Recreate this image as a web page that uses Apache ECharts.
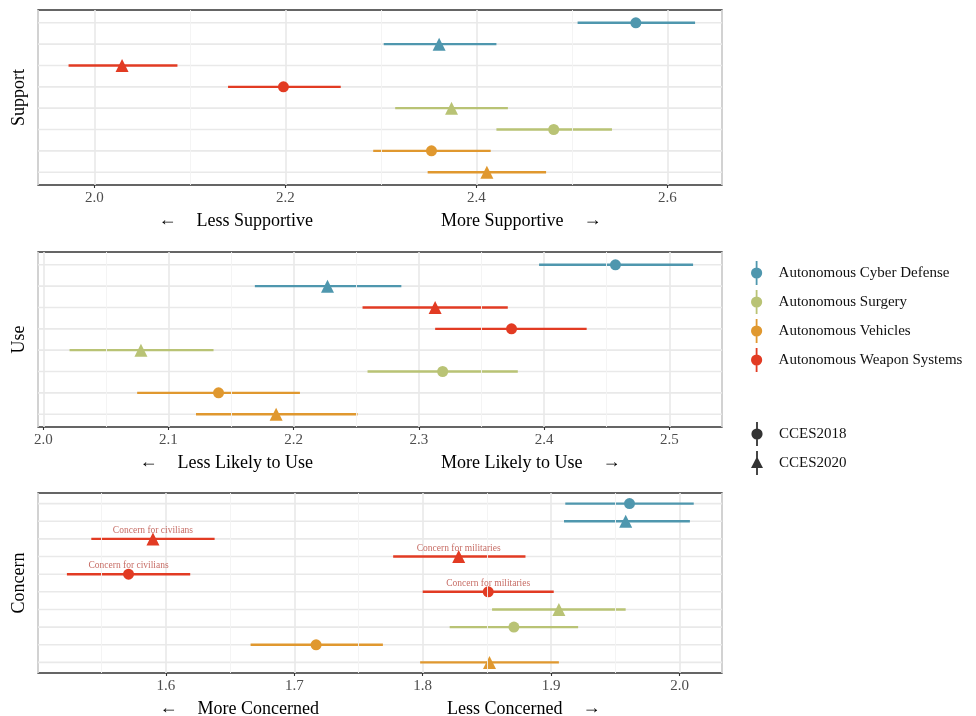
<!DOCTYPE html>
<html>
<head>
<meta charset="utf-8">
<script src="https://cdn.jsdelivr.net/npm/echarts@6/dist/echarts.min.js"></script>
<style>
  html, body { margin: 0; padding: 0; background: #fff; }
  #chart { width: 976px; height: 716px; }
</style>
</head>
<body>
<div id="chart"></div>
<script>
const techNames = ['Autonomous Cyber Defense', 'Autonomous Surgery', 'Autonomous Vehicles', 'Autonomous Weapon Systems'];
const techColors = ['#4f97ae', '#b9c375', '#e0982f', '#e23b23'];
const waves = ['CCES2018', 'CCES2020'];

// rows top to bottom; tech index, wave index, estimate, interval
const supportTech = [0, 0, 3, 3, 1, 1, 2, 2];
const supportWave = [0, 1, 1, 0, 1, 0, 0, 1];
const supportEst = [2.567, 2.361, 2.029, 2.198, 2.374, 2.481, 2.353, 2.411];
const supportLo = [2.506, 2.303, 1.973, 2.140, 2.315, 2.421, 2.292, 2.349];
const supportHi = [2.629, 2.421, 2.087, 2.258, 2.433, 2.542, 2.415, 2.473];

const useTech = [0, 0, 3, 3, 1, 1, 2, 2];
const useWave = [0, 1, 1, 0, 1, 0, 0, 1];
const useEst = [2.457, 2.227, 2.313, 2.374, 2.078, 2.319, 2.140, 2.186];
const useLo = [2.396, 2.169, 2.255, 2.313, 2.021, 2.259, 2.075, 2.122];
const useHi = [2.519, 2.286, 2.371, 2.434, 2.136, 2.379, 2.205, 2.251];

const concernTech = [0, 0, 3, 3, 3, 3, 1, 1, 2, 2];
const concernWave = [0, 1, 1, 1, 0, 0, 1, 0, 0, 1];
const concernEst = [1.961, 1.958, 1.590, 1.828, 1.571, 1.851, 1.906, 1.871, 1.717, 1.852];
const concernLo = [1.911, 1.910, 1.542, 1.777, 1.523, 1.800, 1.854, 1.821, 1.666, 1.798];
const concernHi = [2.011, 2.008, 1.638, 1.880, 1.619, 1.902, 1.958, 1.921, 1.769, 1.906];
const concernNote = ['', '', 'Concern for civilians', 'Concern for militaries', 'Concern for civilians', 'Concern for militaries', '', '', '', ''];

const panelTitles = ['Support', 'Use', 'Concern'];
const lowLabels = ['Less Supportive', 'Less Likely to Use', 'More Concerned'];
const highLabels = ['More Supportive', 'More Likely to Use', 'Less Concerned'];
const xMin = [1.941, 1.9958, 1.5005];
const xMax = [2.6572, 2.5421, 2.033];
const xSplits = [3, 5, 5];
const tickLabels = [
  ['2.0', '2.2', '2.4', '2.6'],
  ['2.0', '2.1', '2.2', '2.3', '2.4', '2.5'],
  ['1.6', '1.7', '1.8', '1.9', '2.0']
];
const minorTicks = [
  [2.1, 2.3, 2.5],
  [2.05, 2.15, 2.25, 2.35, 2.45],
  [1.55, 1.65, 1.75, 1.85, 1.95]
];

const panels = [
  { tech: supportTech, wave: supportWave, est: supportEst, lo: supportLo, hi: supportHi },
  { tech: useTech, wave: useWave, est: useEst, lo: useLo, hi: useHi },
  { tech: concernTech, wave: concernWave, est: concernEst, lo: concernLo, hi: concernHi, note: concernNote }
];
const grids = [
  { left: 38, top: 10, width: 684, height: 175 },
  { left: 38, top: 252, width: 684, height: 175 },
  { left: 38, top: 493, width: 684, height: 180 }
];
const nameGaps = [26, 26, 26];

const font = 'Liberation Serif';
const iconDot = 'path://M4.1,0H5.9V8H4.1Z M4.1,16H5.9V24H4.1Z M-0.6,12A5.6,5.6 0 1,1 10.6,12A5.6,5.6 0 1,1 -0.6,12Z';
const iconTri = 'path://M4.1,0H5.9V8H4.1Z M4.1,16H5.9V24H4.1Z M5,5.5L11,17H-1Z';

const chart = echarts.init(document.getElementById('chart'));

const xAxes = [], yAxes = [], series = [];

panels.forEach((p, i) => {
  const n = p.est.length;
  xAxes.push({
    type: 'value', gridIndex: i, min: xMin[i], max: xMax[i], splitNumber: xSplits[i],
    axisLine: { show: false, onZero: false },
    axisTick: { show: true, length: 3, lineStyle: { color: '#333', width: 1.1 } },
    axisLabel: {
      color: '#4d4d4d', fontSize: 15, fontFamily: font, margin: 6,
      showMinLabel: false, showMaxLabel: false,
      formatter: v => tickLabels[i].includes(v.toFixed(1)) ? v.toFixed(1) : ''
    },
    splitLine: { show: true, lineStyle: { color: '#e9e9e9', width: 1.6 } },
    name: '{a|←}{s| }{t|' + lowLabels[i] + '}{m| }{t|' + highLabels[i] + '}{s| }{a|→}',
    nameLocation: 'middle', nameGap: nameGaps[i],
    nameTextStyle: {
      rich: {
        t: { fontSize: 18, fontFamily: font, color: '#000' },
        a: { fontSize: 18, fontFamily: font, color: '#000', padding: [0, 0, 3, 0] },
        s: { width: 20 },
        m: { width: 128 }
      }
    }
  });
  yAxes.push({
    type: 'value', gridIndex: i, min: -0.6, max: n - 0.4, inverse: true,
    axisLine: { show: false, onZero: false }, axisTick: { show: false }, axisLabel: { show: false },
    splitLine: { show: false },
    name: panelTitles[i], nameLocation: 'middle', nameGap: 10,
    nameTextStyle: { fontSize: 18, fontFamily: font, color: '#000' }
  });

  // horizontal row gridlines and minor vertical gridlines
  series.push({
    type: 'custom', xAxisIndex: i, yAxisIndex: i, silent: true, z: 1,
    data: p.est.map((v, r) => [r]),
    encode: { y: 0 },
    renderItem: (params, api) => {
      const cs = params.coordSys;
      const y = api.coord([xMin[i], api.value(0)])[1];
      return { type: 'line', shape: { x1: cs.x, y1: y, x2: cs.x + cs.width, y2: y },
        style: { stroke: '#e9e9e9', lineWidth: 1.6 } };
    },
    markLine: {
      silent: true, symbol: 'none', label: { show: false },
      lineStyle: { color: '#f3f3f3', width: 0.9, type: 'solid' },
      data: minorTicks[i].map(v => ({ xAxis: v }))
    }
  });

  // interval whiskers
  series.push({
    type: 'custom', xAxisIndex: i, yAxisIndex: i, silent: true, z: 3,
    data: p.est.map((v, r) => [p.lo[r], p.hi[r], r, p.tech[r]]),
    encode: { x: [0, 1], y: 2 },
    renderItem: (params, api) => {
      const a = api.coord([api.value(0), api.value(2)]);
      const b = api.coord([api.value(1), api.value(2)]);
      return { type: 'line', shape: { x1: a[0], y1: a[1], x2: b[0], y2: b[1] },
        style: { stroke: techColors[api.value(3)], lineWidth: 2.4 } };
    }
  });

  // point estimates, one series per technology
  techNames.forEach((name, t) => {
    const data = [];
    p.est.forEach((v, r) => {
      if (p.tech[r] !== t) return;
      const tri = p.wave[r] === 1;
      data.push({ value: [v, r], symbol: tri ? 'triangle' : 'circle', symbolSize: tri ? 13 : 11 });
    });
    series.push({
      type: 'scatter', name: name, xAxisIndex: i, yAxisIndex: i, z: 4,
      itemStyle: { color: techColors[t], opacity: 1 },
      data: data
    });
  });

  if (p.note) {
    const notes = [];
    p.est.forEach((v, r) => { if (p.note[r]) notes.push({ value: [v, r], name: p.note[r] }); });
    series.push({
      type: 'scatter', xAxisIndex: i, yAxisIndex: i, symbolSize: 0, z: 5, silent: true,
      data: notes,
      label: { show: true, position: 'top', distance: 3.5, formatter: '{b}',
        color: '#b8463c', fontSize: 9.5, fontFamily: font }
    });
  }
});

waves.forEach(w => {
  series.push({ type: 'scatter', name: w, xAxisIndex: 0, yAxisIndex: 0, itemStyle: { color: '#000' }, data: [] });
});

chart.setOption({
  animation: false,
  backgroundColor: '#fff',
  grid: grids.map(g => Object.assign({
    show: true, borderColor: '#333', borderWidth: 1.3, backgroundColor: 'transparent',
    containLabel: false, outerBoundsMode: 'none'
  }, g)),
  xAxis: xAxes,
  yAxis: yAxes,
  legend: [
    {
      orient: 'vertical', left: 746, top: 256, itemWidth: 34, itemHeight: 24, itemGap: 5,
      selectedMode: false,
      textStyle: { fontSize: 15, fontFamily: font, color: '#111' },
      data: techNames.map(nm => ({ name: nm, icon: iconDot }))
    },
    {
      orient: 'vertical', left: 746, top: 417, itemWidth: 34, itemHeight: 24, itemGap: 5,
      selectedMode: false,
      textStyle: { fontSize: 15, fontFamily: font, color: '#111' },
      data: [{ name: waves[0], icon: iconDot }, { name: waves[1], icon: iconTri }]
    }
  ],
  series: series
});
</script>
</body>
</html>
